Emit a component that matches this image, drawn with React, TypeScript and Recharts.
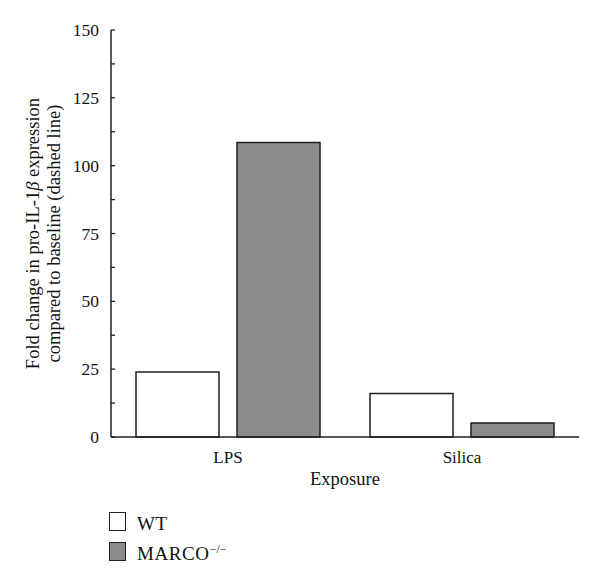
import { BarChart, Bar, XAxis, YAxis, Legend } from 'recharts';

const categories = ['LPS', 'Silica'];
const wtValues = [24, 16];
const marcoValues = [108.5, 5.2];
const yTicks = [0, 12.5, 25, 37.5, 50, 62.5, 75, 87.5, 100, 112.5, 125, 137.5, 150];
const yLabelTicks = [0, 25, 50, 75, 100, 125, 150];
const seriesNames = ['WT', 'MARCO'];
const seriesSup = ['', '−/−'];

const FONT = '"Liberation Serif", "DejaVu Serif", serif';
const INK = '#1f1f1f';
const COLORS = ['#ffffff', '#8c8c8c'];

const data = categories.map((c, i) => ({ name: c, wt: wtValues[i], marco: marcoValues[i] }));

function YTick({ x, y, payload }: any) {
  const showLabel = yLabelTicks.includes(payload.value);
  return (
    <g>
      <line x1={x} x2={x + 4} y1={y} y2={y} stroke={INK} strokeWidth={1.3} />
      {showLabel && (
        <text x={x - 12} y={y + 6} textAnchor="end" fontSize={17.5} fontFamily={FONT} fill="#111">
          {payload.value}
        </text>
      )}
    </g>
  );
}

function XTick({ x, y, payload }: any) {
  return (
    <text x={x} y={y + 26} textAnchor="middle" fontSize={17} fontFamily={FONT} fill="#111">
      {payload.value}
    </text>
  );
}

function YLabel({ viewBox }: any) {
  const cy = viewBox.y + viewBox.height / 2;
  return (
    <g fontFamily={FONT} fontSize={18.5} fill="#111">
      <text x={39} y={cy} textAnchor="middle" transform={`rotate(-90, 39, ${cy})`}>
        Fold change in pro-IL-1<tspan fontStyle="italic">β</tspan> expression
      </text>
      <text x={60} y={cy} textAnchor="middle" transform={`rotate(-90, 60, ${cy})`}>
        compared to baseline (dashed line)
      </text>
    </g>
  );
}

function XLabel({ viewBox }: any) {
  return (
    <text
      x={viewBox.x + viewBox.width / 2}
      y={viewBox.y + 48}
      textAnchor="middle"
      fontFamily={FONT}
      fontSize={18.5}
      fill="#111"
    >
      Exposure
    </text>
  );
}

function LegendBox() {
  return (
    <div style={{ fontFamily: FONT, fontSize: 19, color: '#111' }}>
      {seriesNames.map((n, i) => (
        <div key={n} style={{ display: 'flex', alignItems: 'center', height: 19, marginBottom: 11 }}>
          <span
            style={{
              width: 15,
              height: 17,
              background: COLORS[i],
              border: `1.5px solid ${INK}`,
              display: 'inline-block',
              marginRight: 11,
            }}
          />
          <span style={{ letterSpacing: 0.6, position: 'relative', top: 2 }}>
            {n}
            {seriesSup[i] && <sup style={{ fontSize: 12, letterSpacing: 0 }}>{seriesSup[i]}</sup>}
          </span>
        </div>
      ))}
    </div>
  );
}

export default function App() {
  return (
    <div style={{ position: 'absolute', left: 0, top: 0, background: '#fff' }}>
      <BarChart
        width={600}
        height={587}
        data={data}
        margin={{ top: 30, right: 21, left: 0, bottom: 90 }}
        barCategoryGap={25}
        barGap={18}
      >
        <XAxis
          dataKey="name"
          height={60}
          tickSize={0}
          tickMargin={0}
          tickLine={false}
          axisLine={{ stroke: INK, strokeWidth: 1.5 }}
          tick={<XTick />}
          label={{ content: <XLabel /> } as any}
        />
        <YAxis
          width={111}
          domain={[0, 150]}
          ticks={yTicks}
          interval={0}
          tickSize={0}
          tickMargin={0}
          tickLine={false}
          axisLine={{ stroke: INK, strokeWidth: 1.5 }}
          tick={<YTick />}
          label={{ content: <YLabel /> } as any}
        />
        <Legend
          layout="vertical"
          align="center"
          verticalAlign="middle"
          content={<LegendBox />}
          wrapperStyle={{ position: 'absolute', left: 109, top: 512, width: 220, height: 60 }}
        />
        <Bar dataKey="wt" name={seriesNames[0]} fill={COLORS[0]} stroke={INK} strokeWidth={1.5} isAnimationActive={false} />
        <Bar dataKey="marco" name={seriesNames[1]} fill={COLORS[1]} stroke={INK} strokeWidth={1.5} isAnimationActive={false} />
      </BarChart>
    </div>
  );
}
